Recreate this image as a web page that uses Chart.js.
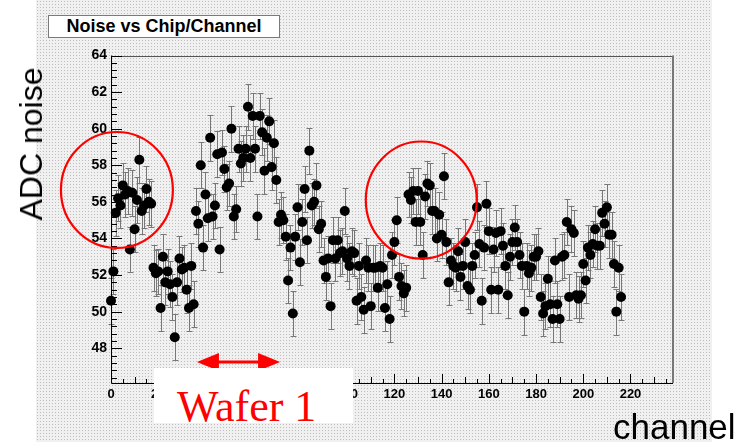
<!DOCTYPE html>
<html lang="en">
<head>
    <meta charset="UTF-8">
    <title>Noise vs Chip/Channel</title>
    <script src="https://cdn.jsdelivr.net/npm/chart.js"></script>
    <style>
        body {
            margin: 0;
            background: #ffffff;
            font-family: "Liberation Sans", Arial, sans-serif;
        }

        #wrap {
            position: relative;
            width: 738px;
            height: 442px;
            overflow: hidden;
            background: #ffffff;
        }

        #pattern {
            position: absolute;
            left: 36px;
            top: 0;
            width: 676px;
            height: 442px;
            background-color: #f0f0f0;
            background-image: radial-gradient(rgba(130,130,130,0.45) 0.8px, transparent 0.9px);
            background-size: 3px 3px;
        }

        #myChart {
            position: absolute;
            left: 0;
            top: 0;
        }

        .titlebox {
            position: absolute;
            left: 48px;
            top: 15px;
            width: 232px;
            height: 23px;
            box-sizing: border-box;
            border: 1px solid #7a7a7a;
            background: #ffffff;
            font-weight: bold;
            font-size: 18px;
            line-height: 21px;
            text-align: center;
            color: #000;
        }

        .ylabel {
            position: absolute;
            left: 31px;
            top: 144px;
            transform: translate(-50%, -50%) rotate(-90deg);
            font-size: 32px;
            line-height: 32px;
            white-space: nowrap;
            color: #000;
        }

        .xlabel {
            position: absolute;
            left: 613px;
            top: 409px;
            font-size: 35px;
            line-height: 35px;
            white-space: nowrap;
            color: #000;
        }

        .wafer {
            position: absolute;
            left: 154px;
            top: 368px;
            width: 199px;
            height: 55px;
            background: #ffffff;
            overflow: hidden;
        }

        .wafer span {
            position: absolute;
            left: 23px;
            top: 17px;
            font-family: "Liberation Serif", "Times New Roman", serif;
            font-size: 44px;
            line-height: 44px;
            color: #ff0000;
            white-space: nowrap;
        }
    </style>
</head>
<body>
<div id="wrap">
    <div id="pattern"></div>
    <canvas id="myChart" width="738" height="442"></canvas>
    <div class="titlebox">Noise vs Chip/Channel</div>
    <div class="ylabel">ADC noise</div>
    <div class="xlabel">channel</div>
    <div class="wafer"><span>Wafer 1</span></div>
</div>

<script>
    // ADC noise per channel (channel = index)
    const noise = [
        50.6, 52.2, 55.4, 56.2, 55.8, 56.9, 56.4, 56.6, 53.4, 56.5,
        54.5, 56.1, 58.3, 55.5, 55.8, 56.7, 56.0, 55.9, 52.4, 52.1,
        52.2, 50.2, 53.0, 51.6, 52.2, 51.5, 50.8, 48.6, 51.6, 52.9,
        52.3, 52.4, 51.2, 50.2, 52.5, 50.4, 55.5, 54.8, 58.0, 53.5,
        56.4, 55.1, 59.5, 55.2, 55.8, 58.6, 53.4, 58.7, 57.8, 56.8,
        57.0, 60.0, 55.2, 55.6, 58.9, 58.1, 58.4, 58.9, 61.2, 58.4,
        60.7, 58.9, 55.2, 60.7, 59.8, 57.7, 59.5, 60.4, 57.9, 59.2,
        57.2, 54.9, 55.3, 55.0, 54.1, 51.7, 53.5, 49.9, 54.1, 55.7,
        52.7, 54.9, 56.7, 53.9, 58.8, 55.8, 56.0, 56.9, 54.5, 54.8,
        52.8, 51.9, 52.9, 50.3, 53.9, 52.9, 53.9, 53.2, 53.3, 55.5,
        52.9, 52.5, 53.3, 53.2, 50.6, 52.5, 50.8, 50.1, 52.8, 52.4,
        50.3, 52.4, 52.4, 51.3, 52.5, 52.4, 50.2, 51.5, 49.6, 53.1,
        53.8, 55.0, 51.9, 51.4, 51.0, 51.3, 56.4, 56.1, 56.6, 54.9,
        56.6, 54.9, 53.1, 56.3, 57.0, 56.9, 55.5, 55.5, 54.0, 55.3,
        54.2, 57.4, 53.8, 51.6, 52.8, 52.5, 52.4, 53.3, 51.9, 52.5,
        53.8, 51.4, 51.2, 52.5, 53.1, 55.7, 53.7, 50.6, 53.5, 55.9,
        54.4, 51.2, 53.4, 54.3, 51.2, 54.4, 53.6, 52.5, 50.9, 53.0,
        53.8, 54.6, 53.8, 53.1, 52.5, 50.0, 52.5, 52.1, 52.4, 53.0,
        53.0, 53.3, 50.8, 49.9, 50.3, 51.8, 50.4, 49.6, 52.8, 50.4,
        49.6, 53.0, 53.1, 54.9, 50.8, 54.5, 54.3, 50.9, 50.7, 50.9,
        52.6, 51.7, 53.5, 53.1, 53.7, 54.5, 53.6, 53.6, 55.4, 54.8,
        55.7, 54.2, 54.2, 52.6, 50.0, 52.4, 50.8
    ];
    const errHalf = 1.25;

    const xTicks = [0, 20, 40, 60, 80, 100, 120, 140, 160, 180, 200, 220];
    const yTicks = [48, 50, 52, 54, 56, 58, 60, 62, 64];

    // red highlight ellipses (data units) and the wafer arrow
    const circles = [
        { x: 2.5, y: 56.65, rx: 23.7, ry: 3.17 },
        { x: 131.4, y: 56.1, rx: 23.5, ry: 3.2 }
    ];
    const waferArrow = { from: 36.4, to: 71.6, y: 47.25 };

    const rootStyle = {
        id: 'rootStyle',
        beforeDatasetsDraw(chart) {
            const { ctx, scales: { x, y } } = chart;
            ctx.save();
            ctx.strokeStyle = '#777777';
            ctx.lineWidth = 1;
            noise.forEach((v, i) => {
                const px = Math.round(x.getPixelForValue(i)) + 0.5;
                const top = Math.round(y.getPixelForValue(v + errHalf)) + 0.5;
                const bot = Math.round(y.getPixelForValue(v - errHalf)) + 0.5;
                ctx.beginPath();
                ctx.moveTo(px, top);
                ctx.lineTo(px, bot);
                ctx.moveTo(px - 3, top);
                ctx.lineTo(px + 3, top);
                ctx.moveTo(px - 3, bot);
                ctx.lineTo(px + 3, bot);
                ctx.stroke();
            });
            ctx.restore();
        },
        afterDraw(chart) {
            const { ctx, chartArea: a, scales: { x, y } } = chart;
            ctx.save();

            // frame
            ctx.lineWidth = 1;
            ctx.strokeStyle = '#555';
            ctx.beginPath();
            ctx.moveTo(a.left, Math.round(a.top) + 0.5);
            ctx.lineTo(a.right, Math.round(a.top) + 0.5);
            ctx.stroke();
            ctx.lineWidth = 2;
            ctx.strokeStyle = '#777';
            ctx.beginPath();
            ctx.moveTo(Math.round(a.right), a.top);
            ctx.lineTo(Math.round(a.right), a.bottom);
            ctx.stroke();
            ctx.lineWidth = 1;
            ctx.strokeStyle = '#000';
            ctx.beginPath();
            ctx.moveTo(Math.round(a.left) + 0.5, a.top);
            ctx.lineTo(Math.round(a.left) + 0.5, a.bottom + 0.5);
            ctx.lineTo(a.right, Math.round(a.bottom) + 0.5);
            ctx.stroke();

            // inward ticks, ROOT style
            ctx.beginPath();
            for (let v = 0; v <= x.max; v += 5) {
                const px = Math.round(x.getPixelForValue(v)) + 0.5;
                const len = v % 20 === 0 ? 9 : (v % 10 === 0 ? 6 : 4);
                ctx.moveTo(px, a.bottom);
                ctx.lineTo(px, a.bottom - len);
            }
            for (let k = 0; k <= 45; k++) {
                const v = y.max - k * 0.4;
                if (v < y.min) break;
                const py = Math.round(y.getPixelForValue(v)) + 0.5;
                const major = k % 5 === 0;
                ctx.moveTo(a.left, py);
                ctx.lineTo(a.left + (major ? 11 : 6), py);
            }
            ctx.stroke();

            // red circles
            ctx.strokeStyle = '#ff0000';
            ctx.lineWidth = 2.2;
            circles.forEach(c => {
                const cx = x.getPixelForValue(c.x);
                const cy = y.getPixelForValue(c.y);
                const rx = x.getPixelForValue(c.x + c.rx) - cx;
                const ry = cy - y.getPixelForValue(c.y + c.ry);
                ctx.beginPath();
                ctx.ellipse(cx, cy, rx, ry, 0, 0, Math.PI * 2);
                ctx.stroke();
            });

            // double arrow
            const x1 = x.getPixelForValue(waferArrow.from);
            const x2 = x.getPixelForValue(waferArrow.to);
            const ay = y.getPixelForValue(waferArrow.y);
            ctx.fillStyle = '#ff0000';
            ctx.lineWidth = 3;
            ctx.beginPath();
            ctx.moveTo(x1 + 15, ay);
            ctx.lineTo(x2 - 15, ay);
            ctx.stroke();
            ctx.beginPath();
            ctx.moveTo(x1, ay);
            ctx.lineTo(x1 + 22, ay - 9);
            ctx.lineTo(x1 + 22, ay + 9);
            ctx.closePath();
            ctx.moveTo(x2, ay);
            ctx.lineTo(x2 - 22, ay - 9);
            ctx.lineTo(x2 - 22, ay + 9);
            ctx.closePath();
            ctx.fill();

            ctx.restore();
        }
    };

    const ctx = document.getElementById('myChart').getContext('2d');
    const chart = new Chart(ctx, {
        type: 'scatter',
        data: {
            datasets: [{
                label: 'Noise',
                data: noise.map((v, i) => ({ x: i, y: v })),
                backgroundColor: '#000',
                borderWidth: 0,
                pointRadius: 5,
                pointHoverRadius: 5,
                clip: false
            }]
        },
        options: {
            responsive: false,
            animation: false,
            layout: {
                padding: { left: 0, top: 55.5, right: 65, bottom: 0 }
            },
            plugins: {
                legend: { display: false },
                tooltip: { enabled: false }
            },
            scales: {
                x: {
                    type: 'linear',
                    min: 0,
                    max: 238,
                    afterBuildTicks: s => { s.ticks = xTicks.map(v => ({ value: v })); },
                    afterFit: s => { s.height = 59; },
                    grid: { display: false, drawTicks: false },
                    border: { display: false },
                    ticks: {
                        color: '#000',
                        padding: 4,
                        maxRotation: 0,
                        font: { family: 'Liberation Sans', size: 13, weight: 'bold' }
                    }
                },
                y: {
                    min: 46.1,
                    max: 64,
                    afterBuildTicks: s => { s.ticks = yTicks.map(v => ({ value: v })); },
                    afterFit: s => { s.width = 111; },
                    grid: { display: false, drawTicks: false },
                    border: { display: false },
                    ticks: {
                        color: '#000',
                        padding: 4,
                        font: { family: 'Liberation Sans', size: 14, weight: 'bold' }
                    }
                }
            }
        },
        plugins: [rootStyle]
    });
</script>
</body>
</html>
